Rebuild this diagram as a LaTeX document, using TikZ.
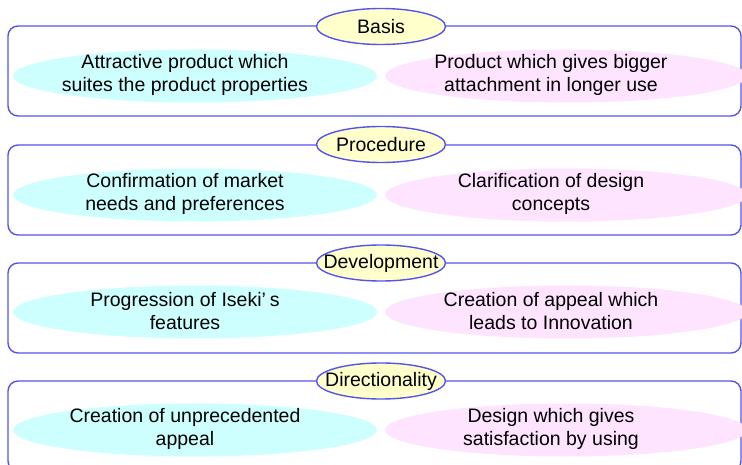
\documentclass[tikz,border=0pt]{standalone}
\usepackage{fontspec}
\setmainfont{Liberation Sans}
\usetikzlibrary{shapes.geometric}
\usetikzlibrary{positioning}
\definecolor{panelblue}{RGB}{84,84,236}
\definecolor{tagfill}{RGB}{255,255,204}
\definecolor{cyanfill}{RGB}{206,255,255}
\definecolor{pinkfill}{RGB}{255,228,255}
\newcommand{\tagtext}[1]{\makebox[0pt]{\raisebox{-2pt}{#1}}}
\begin{document}
\begin{tikzpicture}[x=1pt,y=-1pt,
	panel/.style={draw=panelblue,line width=1.4pt,rounded corners=10pt,
		minimum width=733pt,minimum height=90pt,inner sep=0pt},
	tag/.style={draw=panelblue,line width=1.4pt,ellipse,fill=tagfill,
		minimum width=129pt,minimum height=36pt,inner sep=0pt,
		font=\fontsize{19.5}{23}\selectfont},
	lcyan/.style={ellipse,fill=cyanfill,minimum width=364pt,
		minimum height=53pt,inner sep=0pt},
	lpink/.style={ellipse,fill=pinkfill,minimum width=362pt,
		minimum height=53pt,inner sep=0pt},
	txt/.style={align=center,inner sep=0pt,
		font=\fontsize{19.5}{23}\selectfont}]
	\useasboundingbox (0,0) rectangle (742,465);
	\clip (0,0) rectangle (742,465);
	% Basis
	\node[panel] (p1) at (374.5,71) {};
	\node[lcyan] (c1) at (195,76) {};
	\node[lpink] (k1) at (566,76) {};
	\node[txt] (ct1) at (185,75) {Attractive product which\\suites the product properties};
	\node[txt] (kt1) at (551,75) {Product which gives bigger\\attachment in longer use};
	\node[tag] (t1) at (381,26.5) {\tagtext{Basis}};
	% Procedure
	\node[panel] (p2) at (374.5,190) {};
	\node[lcyan] (c2) at (195,195) {};
	\node[lpink] (k2) at (566,195) {};
	\node[txt] (ct2) at (185,194) {Confirmation of market\\needs and preferences};
	\node[txt] (kt2) at (551,194) {Clarification of design\\concepts};
	\node[tag] (t2) at (381,144.5) {\tagtext{Procedure}};
	% Development
	\node[panel] (p3) at (374.5,308) {};
	\node[lcyan] (c3) at (195,312) {};
	\node[lpink] (k3) at (566,312) {};
	\node[txt] (ct3) at (185,311) {Progression of Iseki’\hspace{0.2em}s\\features};
	\node[txt] (kt3) at (551,311) {Creation of appeal which\\leads to Innovation};
	\node[tag] (t3) at (381,263) {\tagtext{Development}};
	% Directionality
	\node[panel] (p4) at (374.5,426) {};
	\node[lcyan] (c4) at (195,430) {};
	\node[lpink] (k4) at (566,430) {};
	\node[txt] (ct4) at (185,429) {Creation of unprecedented\\appeal};
	\node[txt] (kt4) at (551,429) {Design which gives\\satisfaction by using};
	\node[tag] (t4) at (381,381) {\tagtext{Directionality}};
\end{tikzpicture}
\end{document}
